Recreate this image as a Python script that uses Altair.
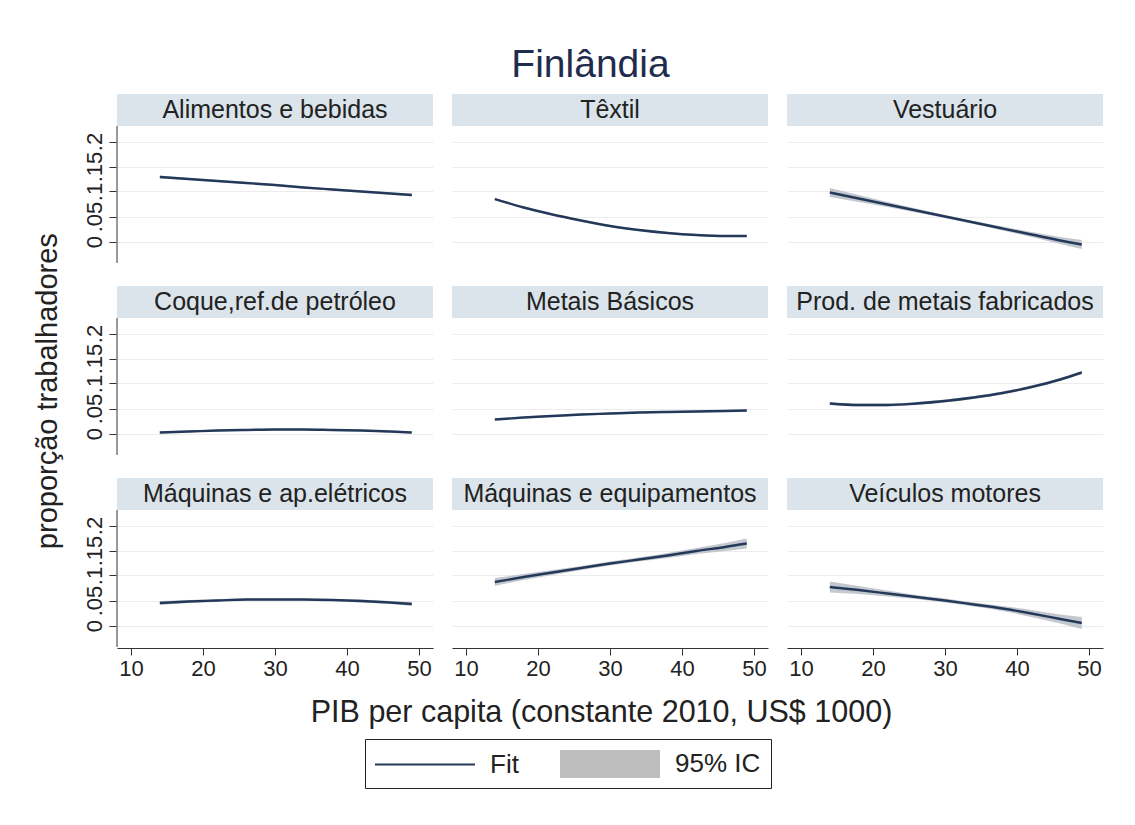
import altair as alt
import pandas as pd

F = "Liberation Sans"

# x values (PIB per capita, US$ 1000)
xs = [14, 18, 22, 26, 30, 34, 38, 42, 46, 49]

names = [
    "Alimentos e bebidas", "Têxtil", "Vestuário",
    "Coque,ref.de petróleo", "Metais Básicos", "Prod. de metais fabricados",
    "Máquinas e ap.elétricos", "Máquinas e equipamentos", "Veículos motores",
]

fit_alimentos = [0.129, 0.125, 0.121, 0.117, 0.113, 0.108, 0.104, 0.100, 0.096, 0.093]
fit_textil = [0.085, 0.068, 0.054, 0.042, 0.031, 0.023, 0.017, 0.013, 0.011, 0.011]
fit_vestuario = [0.098, 0.086, 0.074, 0.062, 0.050, 0.038, 0.026, 0.014, 0.002, -0.006]
fit_coque = [0.002, 0.004, 0.006, 0.007, 0.008, 0.008, 0.007, 0.006, 0.004, 0.002]
fit_metais = [0.028, 0.032, 0.035, 0.038, 0.040, 0.042, 0.043, 0.044, 0.045, 0.046]
fit_prod = [0.060, 0.057, 0.057, 0.060, 0.065, 0.072, 0.081, 0.093, 0.108, 0.122]
fit_maqel = [0.045, 0.048, 0.050, 0.052, 0.052, 0.052, 0.051, 0.049, 0.046, 0.043]
fit_maqeq = [0.087, 0.097, 0.106, 0.115, 0.124, 0.132, 0.140, 0.149, 0.157, 0.164]
fit_veic = [0.077, 0.071, 0.064, 0.057, 0.050, 0.042, 0.034, 0.024, 0.013, 0.005]

hw_alimentos = [0.003, 0.002, 0.002, 0.002, 0.002, 0.002, 0.002, 0.002, 0.002, 0.003]
hw_textil = [0.002, 0.002, 0.002, 0.002, 0.002, 0.002, 0.002, 0.002, 0.002, 0.002]
hw_vestuario = [0.009, 0.007, 0.005, 0.004, 0.003, 0.003, 0.004, 0.005, 0.007, 0.009]
hw_coque = [0.002, 0.002, 0.002, 0.002, 0.002, 0.002, 0.002, 0.002, 0.002, 0.002]
hw_metais = [0.002, 0.002, 0.002, 0.002, 0.002, 0.002, 0.002, 0.002, 0.002, 0.002]
hw_prod = [0.003, 0.003, 0.003, 0.003, 0.003, 0.003, 0.003, 0.003, 0.003, 0.003]
hw_maqel = [0.004, 0.003, 0.003, 0.002, 0.002, 0.002, 0.002, 0.003, 0.003, 0.004]
hw_maqeq = [0.008, 0.006, 0.005, 0.004, 0.004, 0.004, 0.005, 0.006, 0.008, 0.010]
hw_veic = [0.011, 0.008, 0.006, 0.004, 0.004, 0.004, 0.005, 0.007, 0.009, 0.012]

fits = [fit_alimentos, fit_textil, fit_vestuario, fit_coque, fit_metais,
        fit_prod, fit_maqel, fit_maqeq, fit_veic]
hws = [hw_alimentos, hw_textil, hw_vestuario, hw_coque, hw_metais,
       hw_prod, hw_maqel, hw_maqeq, hw_veic]

rows = []
for i, (nm, fv, hv) in enumerate(zip(names, fits, hws)):
    for x, f, h in zip(xs, fv, hv):
        rows.append({"panel": nm, "r": i // 3, "c": i % 3, "x": x,
                     "fit": f, "lo": f - h, "hi": f + h})
df = pd.DataFrame(rows)

NAVY = "#24395a"
GRAYCI = "#bcc2c9"
STRIP = "#dae4ea"
W, H = 316, 169
Y0, Y1 = -0.043, 0.295
STRIP_LO = 0.231
STRIP_MID = 0.263

xscale = alt.Scale(domain=[8.05, 51.95], nice=False, zero=False)
yscale = alt.Scale(domain=[Y0, Y1], nice=False, zero=False)

xaxis = alt.Axis(values=[10, 20, 30, 40, 50], title=None, grid=False,
                 labelFontSize=22, labelFont=F, labelColor="#222",
                 tickSize=7, tickColor="#333", domainColor="#333",
                 labelPadding=3, labelFlush=False, labelOverlap=False)
yaxis = alt.Axis(values=[0, 0.05, 0.1, 0.15, 0.2], title=None, grid=True,
                 gridColor="#ececec", domain=False,
                 labelAngle=270, labelAlign="center", labelBaseline="bottom",
                 labelFontSize=22, labelFont=F, labelColor="#222",
                 tickSize=7, tickColor="#333", labelPadding=3,
                 labelOverlap=False,
                 labelExpr="datum.value == 0 ? '0' : replace(toString(datum.value), '0.', '.')")

X = alt.X("x:Q", scale=xscale, axis=xaxis)

first = alt.datum.x == 14

strip = alt.Chart().mark_rect(fill=STRIP).encode(
    x=alt.value(0), x2=alt.value(W),
    y=alt.YDatum(STRIP_LO, scale=yscale, axis=yaxis),
    y2=alt.Y2Datum(Y1),
).transform_filter(first)

strip_text = alt.Chart().mark_text(font=F, fontSize=25, color="#222",
                                   baseline="middle", align="center").encode(
    x=alt.value(W / 2),
    y=alt.YDatum(STRIP_MID, scale=yscale, axis=yaxis),
    text="panel:N",
).transform_filter(first)

yrule = alt.Chart().mark_rule(color="#333", strokeWidth=1).encode(
    x=alt.value(0),
    y=alt.YDatum(Y0, scale=yscale, axis=yaxis),
    y2=alt.Y2Datum(STRIP_LO),
).transform_filter(first & (alt.datum.c == 0))

band = alt.Chart().mark_area(color=GRAYCI, opacity=0.9, interpolate="monotone").encode(
    x=X,
    y=alt.Y("lo:Q", scale=yscale, axis=yaxis),
    y2="hi:Q",
)

line = alt.Chart().mark_line(color=NAVY, strokeWidth=2.4, interpolate="monotone").encode(
    x=X,
    y=alt.Y("fit:Q", scale=yscale, axis=yaxis),
)

leg_domain = ["Fit", "95% IC"]
leg_shapes = ["M-3.333,-0.06H3.333V0.06H-3.333Z", "M-3.333,-0.93H3.333V0.93H-3.333Z"]
legend = alt.Legend(title=None, orient="none", legendX=248, legendY=645,
                    direction="horizontal", strokeColor="#222", padding=10,
                    labelFontSize=26, labelFont=F, labelColor="#222",
                    symbolSize=900, symbolOffset=35, labelOffset=50,
                    columnPadding=41, symbolStrokeWidth=0, symbolOpacity=1)

legpts = alt.Chart().mark_point(filled=True, clip=True, opacity=1).encode(
    x=X,
    y=alt.YDatum(10, scale=yscale, axis=yaxis),
    color=alt.Color("leg:N", scale=alt.Scale(domain=leg_domain, range=[NAVY, "#bdbdbd"]), legend=legend),
    shape=alt.Shape("leg:N", scale=alt.Scale(domain=leg_domain, range=leg_shapes), legend=legend),
).transform_calculate(leg="'Fit'").transform_filter(first)

base = alt.layer(strip, strip_text, yrule, band, line, legpts, data=df).properties(width=W, height=H)

NB = "\u00a0"
ZW = "\u200b"
chart = base.facet(
    row=alt.Row("r:O", header=alt.Header(labels=False, title="proporção trabalhadores" + NB * 5 + ZW,
                                         titleFont=F, titleFontSize=29, titleFontWeight="normal",
                                         titleColor="#222", titleOrient="left", titlePadding=10)),
    column=alt.Column("c:O", header=alt.Header(labels=False,
                                               title="PIB per capita (constante 2010, US$ 1000)" + NB * 2 + ZW,
                                               titleFont=F, titleFontSize=30.5, titleFontWeight="normal",
                                               titleColor="#222", titleOrient="bottom", titlePadding=9)),
    spacing={"row": 22, "column": 19},
).properties(
    title=alt.Title("Finlândia", font=F, fontSize=39, fontWeight="normal", color="#1f2c4c",
                    anchor="middle", offset=9, dx=22),
    padding={"left": 25, "top": 38, "right": 10, "bottom": 10},
).configure_view(stroke=None)

chart.save("out.html", embed_options={"renderer": "svg", "actions": False})
